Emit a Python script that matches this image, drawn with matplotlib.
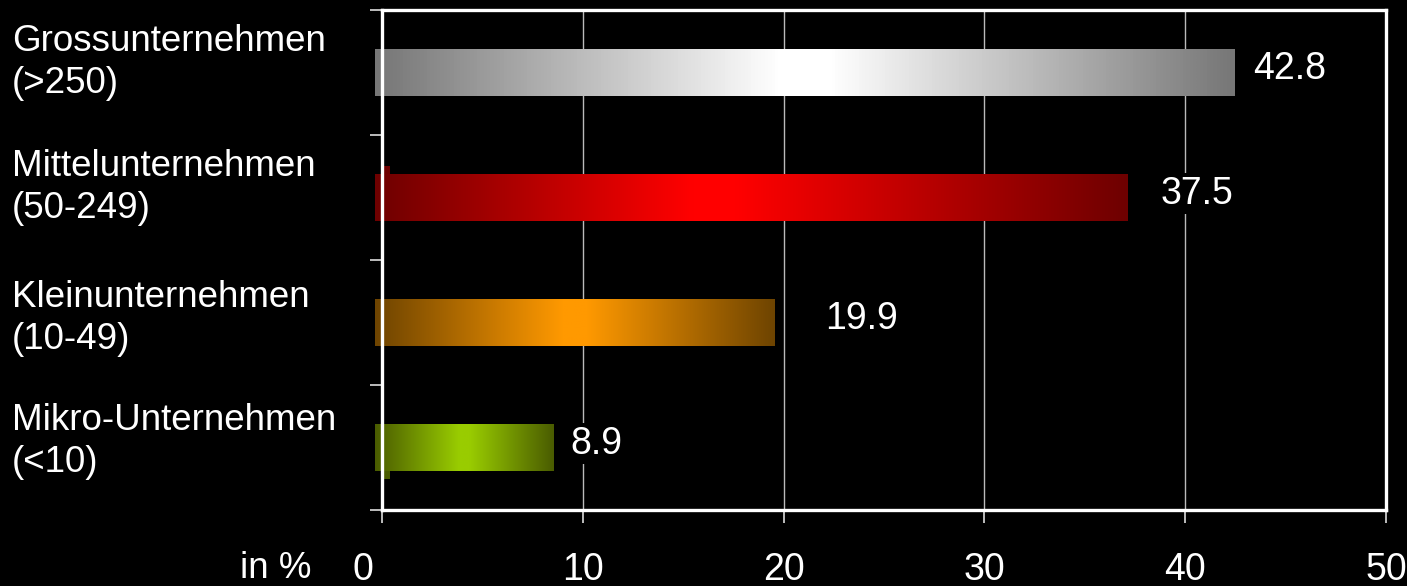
import numpy as np
import matplotlib
matplotlib.use("Agg")
import matplotlib.pyplot as plt
from matplotlib.colors import LinearSegmentedColormap
import matplotlib.transforms as mtransforms

# ---- data ----
categories = ["Mikro-Unternehmen\n(<10)", "Kleinunternehmen\n(10-49)",
              "Mittelunternehmen\n(50-249)", "Grossunternehmen\n(>250)"]
values = [8.9, 19.9, 37.5, 42.8]
value_labels = ["8.9", "19.9", "37.5", "42.8"]
xticks = [0, 10, 20, 30, 40, 50]
xtick_labels = ["0", "10", "20", "30", "40", "50"]

# ---- style ----
edge_colors = ["#4a5c00", "#6e4400", "#6e0000", "#777777"]
mid_colors = ["#99cc00", "#ff9900", "#ff0000", "#ffffff"]
mid_pos = [0.5, 0.5, 0.45, 0.5]
label_pad_px = [17, 51, 33, 19]
plt.rcParams['font.family'] = ['Liberation Sans', 'DejaVu Sans']

W, H, DPI = 1407, 586, 100
fig = plt.figure(figsize=(W / DPI, H / DPI), dpi=DPI, facecolor="black")
ax = fig.add_axes([382 / W, 1 - 510 / H, (1386 - 382) / W, 500 / H])
ax.set_facecolor("black")

ypos = np.arange(len(categories)) + 0.0
bar_h = 0.38
x_shift = -0.35
bars = ax.barh(ypos, values, height=bar_h, left=x_shift, color="none",
               edgecolor="none", zorder=3)

ax.set_xlim(0, 50)
ax.set_ylim(-0.5, 3.5)

grad = np.linspace(0, 1, 256).reshape(1, -1)
for i, b in enumerate(bars):
    cmap = LinearSegmentedColormap.from_list(
        f"g{i}", [(0, edge_colors[i]), (mid_pos[i] - 0.03, mid_colors[i]),
                  (mid_pos[i] + 0.03, mid_colors[i]), (1, edge_colors[i])])
    x0, y0 = b.get_x(), b.get_y()
    im = ax.imshow(grad, cmap=cmap, aspect="auto", interpolation="bilinear",
                   extent=[x0, x0 + b.get_width(), y0, y0 + b.get_height()], zorder=3)
    im.set_clip_path(b)
    # value label
    off = mtransforms.offset_copy(ax.transData, fig=fig, x=label_pad_px[i] * 72 / DPI, y=0,
                                  units="points")
    ax.text(x0 + b.get_width(), ypos[i] + 0.03, value_labels[i], transform=off,
            ha="left", va="center", color="white", fontsize=27, zorder=5,
            bbox=dict(facecolor="black", edgecolor="none", pad=2))

# small depth stubs
ax.bar([0.15], [0.06], width=0.5, bottom=[ypos[2] + bar_h / 2], color=edge_colors[2],
       zorder=2)
ax.bar([0.15], [0.06], width=0.5, bottom=[ypos[0] - bar_h / 2 - 0.06], color=edge_colors[0],
       zorder=2)

ax.set_xlim(0, 50)
ax.set_ylim(-0.5, 3.5)

ax.set_xticks(xticks)
ax.set_xticklabels(xtick_labels)
ax.set_yticks([-0.5, 0.5, 1.5, 2.5, 3.5])
ax.set_yticklabels([])
ax.tick_params(axis="x", direction="out", length=9.5, width=1.2, color="#dddddd",
               labelcolor="white", labelsize=27, pad=21)
ax.tick_params(axis="y", direction="out", length=9, width=1.2, color="#dddddd")
for lbl in ax.get_xticklabels():
    if lbl.get_text() == "0":
        lbl.set_transform(lbl.get_transform() +
                          mtransforms.ScaledTranslation(-19 / DPI, 0, fig.dpi_scale_trans))

ax.grid(axis="x", color="#bbbbbb", linewidth=1.0, zorder=1)
ax.set_axisbelow(True)
for s in ax.spines.values():
    s.set_color("white")
    s.set_linewidth(2.4)
    s.set_zorder(4)

# category labels
label_dy = [0.05, 0.03, 0.08, 0.08]
for i, c in enumerate(categories):
    ax.text(12 / W, ypos[i] + label_dy[i], c, transform=mtransforms.blended_transform_factory(
        fig.transFigure, ax.transData), ha="left", va="center", color="white",
        fontsize=26.5, linespacing=1.25)

fig.text(240 / W, 1 - 578 / H, "in %", color="white", fontsize=26.5, ha="left",
         va="baseline")

fig.savefig("out.png", dpi=DPI, facecolor="black")
